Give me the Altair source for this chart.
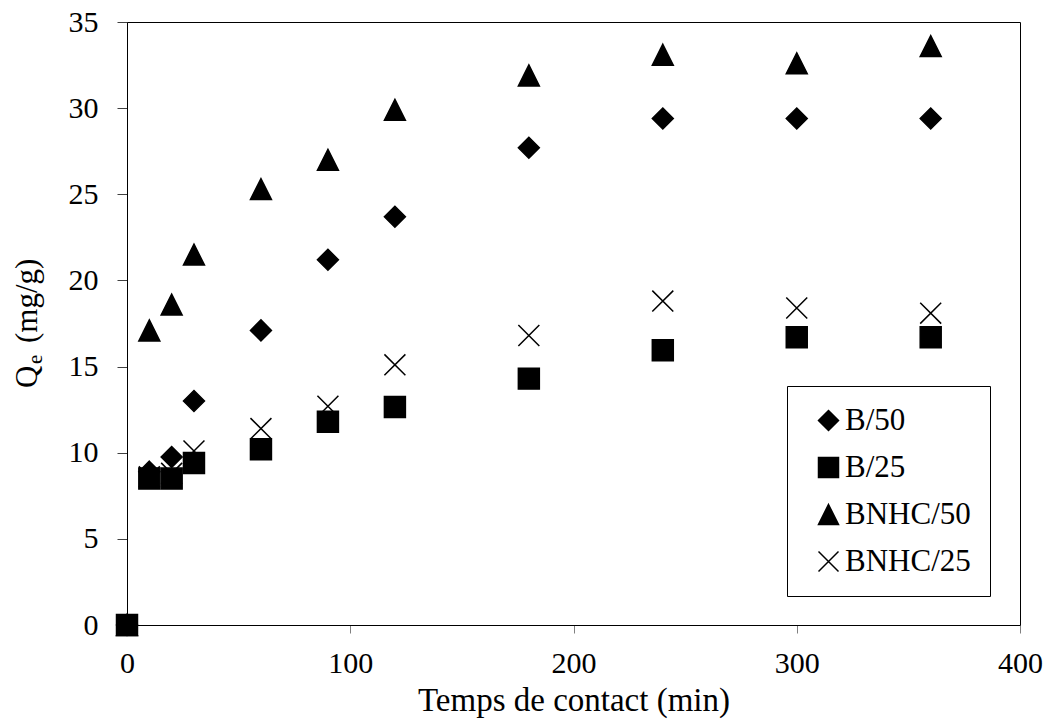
import altair as alt
import pandas as pd

# ---- data ----
times = [0, 10, 20, 30, 60, 90, 120, 180, 240, 300, 360]
b50 = [0, 8.9, 9.75, 13.0, 17.1, 21.2, 23.7, 27.7, 29.4, 29.4, 29.4]
b25 = [0, 8.5, 8.5, 9.4, 10.2, 11.8, 12.65, 14.3, 15.95, 16.7, 16.7]
bnhc50 = [0, 17.1, 18.6, 21.5, 25.3, 27.0, 29.9, 31.9, 33.1, 32.6, 33.6]
bnhc25 = [0, 8.6, 8.8, 10.1, 11.4, 12.7, 15.1, 16.8, 18.8, 18.4, 18.1]

series_names = ["B/50", "B/25", "BNHC/50", "BNHC/25"]
x_ticks = [0, 100, 200, 300, 400]
y_ticks = [0, 5, 10, 15, 20, 25, 30, 35]
x_title = "Temps de contact (min)"
y_title_parts = ["Q", "e", "(mg/g)"]

rows = []
for name, vals in zip(series_names, [b50, b25, bnhc50, bnhc25]):
    for t, v in zip(times, vals):
        rows.append({"series": name, "t": t, "q": v})
df = pd.DataFrame(rows)

FONT = "Liberation Serif"

shapes = [
    "M0,-1L1,0L0,1L-1,0Z",          # diamond
    "M-1,-1L1,-1L1,1L-1,1Z",        # square
    "M0,-1L1,1L-1,1Z",              # triangle
    "M-1,-1L1,1M-1,1L1,-1",         # x
]
legend = alt.Legend(
    orient="none", legendX=660, legendY=364, title=None,
    labelFont=FONT, labelFontSize=31, labelColor="black",
    symbolSize=400, symbolStrokeWidth=1.5, symbolOffset=7,
    strokeColor="black", fillColor="white", padding=19, rowPadding=15,
    labelOffset=1,
)

points = alt.Chart(df).mark_point(opacity=1, strokeWidth=1.5).encode(
    x=alt.X("t:Q", scale=alt.Scale(domain=[0, 400], nice=False),
            axis=alt.Axis(values=x_ticks, grid=False, tickSize=8, tickColor="#808080",
                          domainColor="black", labelFont=FONT, labelFontSize=30,
                          labelColor="black", labelPadding=15, labelFlush=False,
                          title=x_title, titleFont=FONT, titleFontSize=33,
                          titleFontWeight="normal", titleColor="black", titlePadding=6)),
    y=alt.Y("q:Q", scale=alt.Scale(domain=[0, 35], nice=False),
            axis=alt.Axis(values=y_ticks, grid=False, tickSize=10, tickColor="#404040",
                          domainColor="black", labelFont=FONT, labelFontSize=30,
                          labelColor="black", labelPadding=19, title=None)),
    shape=alt.Shape("series:N", scale=alt.Scale(domain=series_names, range=shapes), legend=legend),
    fill=alt.Fill("series:N", scale=alt.Scale(domain=series_names,
                  range=["black", "black", "black", "transparent"]), legend=legend),
    stroke=alt.Stroke("series:N", scale=alt.Scale(domain=series_names,
                      range=["black", "black", "black", "black"]), legend=legend),
    size=alt.value(440),
)

def title_part(text, x, y, size):
    return alt.Chart(pd.DataFrame({"txt": [text]})).mark_text(
        angle=270, align="left", baseline="alphabetic", font=FONT,
        fontSize=size, color="black"
    ).encode(text="txt:N", x=alt.value(x), y=alt.value(y))

ytitle = (
    title_part(y_title_parts[0], -90, 366, 31)
    + title_part(y_title_parts[1], -85, 342, 21)
    + title_part(y_title_parts[2], -90, 321, 31)
)

chart = alt.layer(points, ytitle).properties(
    width=893, height=603, autosize="none",
    padding={"left": 127, "top": 22, "right": 29, "bottom": 102},
    background="white",
).configure_view(stroke="black", strokeWidth=1)

chart.save("out.html", embed_options={"renderer": "svg", "actions": False})
